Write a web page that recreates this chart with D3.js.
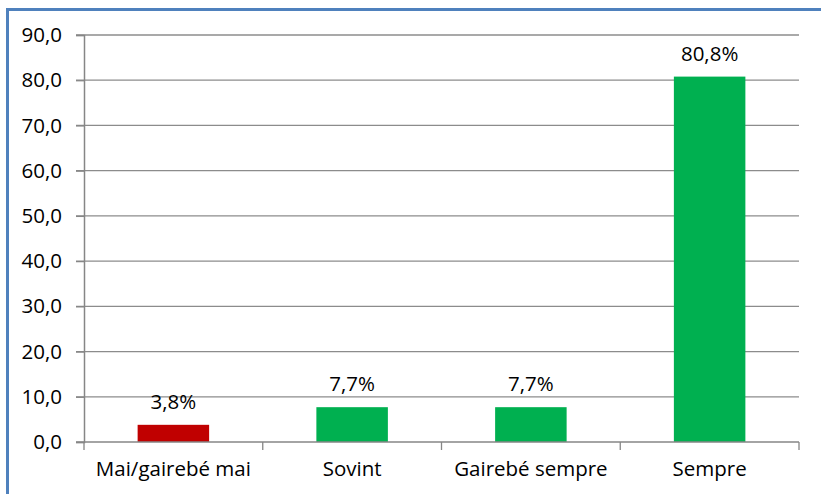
<!DOCTYPE html>
<html>
<head>
<meta charset="utf-8">
<script src="https://cdn.jsdelivr.net/npm/d3@7"></script>
<style>
  body { margin: 0; background: #fff; }
  svg text { font-family: "Open Sans", "Noto Sans", sans-serif; fill: #000; }
</style>
</head>
<body>
<div id="chart"></div>
<script>
// data
const categories = ["Mai/gairebé mai", "Sovint", "Gairebé sempre", "Sempre"];
const values = [3.8, 7.7, 7.7, 80.8];
const barColors = ["#c00000", "#00b050", "#00b050", "#00b050"];
const yTicks = [0, 10, 20, 30, 40, 50, 60, 70, 80, 90];

const width = 821, height = 494;
const margin = { top: 35, right: 22, bottom: 52, left: 84 };
const fontSize = "20.5px";

const svg = d3.select("#chart").append("svg")
    .attr("width", width)
    .attr("height", height);

// outer frame (runs off the right / bottom edge like the original)
svg.append("rect")
    .attr("x", 7.5).attr("y", 9.5)
    .attr("width", width + 20).attr("height", height + 20)
    .attr("fill", "none")
    .attr("stroke", "#4f81bd")
    .attr("stroke-width", 3);

const x = d3.scaleBand()
    .domain(categories)
    .range([margin.left, width - margin.right])
    .paddingInner(0.6)
    .paddingOuter(0.3);

const xAxisScale = d3.scaleBand()
    .domain(categories)
    .range([margin.left, width - margin.right]);

const y = d3.scaleLinear()
    .domain([0, 90])
    .range([height - margin.bottom, margin.top]);

const fmt = v => d3.format(".1f")(v).replace(".", ",");

// gridlines
svg.append("g")
    .selectAll("line")
    .data(yTicks.filter(t => t > 0))
    .join("line")
    .attr("x1", margin.left - 8)
    .attr("x2", width - margin.right)
    .attr("y1", d => y(d))
    .attr("y2", d => y(d))
    .attr("stroke", "#8c8c8c")
    .attr("stroke-width", 1.3);

// y axis
const yAxis = svg.append("g")
    .attr("transform", `translate(${margin.left},0)`)
    .call(d3.axisLeft(y).tickValues(yTicks).tickFormat(fmt).tickSize(8).tickPadding(14));
yAxis.select(".domain").attr("stroke", "#868686").attr("stroke-width", 1.5);
yAxis.selectAll(".tick line").attr("stroke", "#868686").attr("stroke-width", 1.3);
yAxis.selectAll("text").style("font-size", fontSize);

// bars
svg.append("g")
    .selectAll("rect")
    .data(values)
    .join("rect")
    .attr("x", (d, i) => x(categories[i]))
    .attr("width", x.bandwidth())
    .attr("y", d => y(d))
    .attr("height", d => y(0) - y(d))
    .attr("fill", (d, i) => barColors[i]);

// value labels
svg.append("g")
    .selectAll("text")
    .data(values)
    .join("text")
    .attr("x", (d, i) => x(categories[i]) + x.bandwidth() / 2)
    .attr("y", d => y(d) - 16)
    .attr("text-anchor", "middle")
    .style("font-size", fontSize)
    .text(d => fmt(d) + "%");

// x axis with ticks between categories
const xg = svg.append("g")
    .attr("transform", `translate(0,${y(0)})`);
xg.append("line")
    .attr("x1", margin.left - 8)
    .attr("x2", width - margin.right)
    .attr("stroke", "#868686")
    .attr("stroke-width", 1.5);
xg.selectAll(".sep")
    .data(categories.map(c => xAxisScale(c)).concat([width - margin.right]))
    .join("line")
    .attr("class", "sep")
    .attr("x1", d => d).attr("x2", d => d)
    .attr("y1", 0).attr("y2", 8)
    .attr("stroke", "#868686")
    .attr("stroke-width", 1.3);
xg.selectAll("text")
    .data(categories)
    .join("text")
    .attr("x", d => xAxisScale(d) + xAxisScale.bandwidth() / 2)
    .attr("y", 34)
    .attr("text-anchor", "middle")
    .style("font-size", fontSize)
    .text(d => d);
</script>
</body>
</html>
